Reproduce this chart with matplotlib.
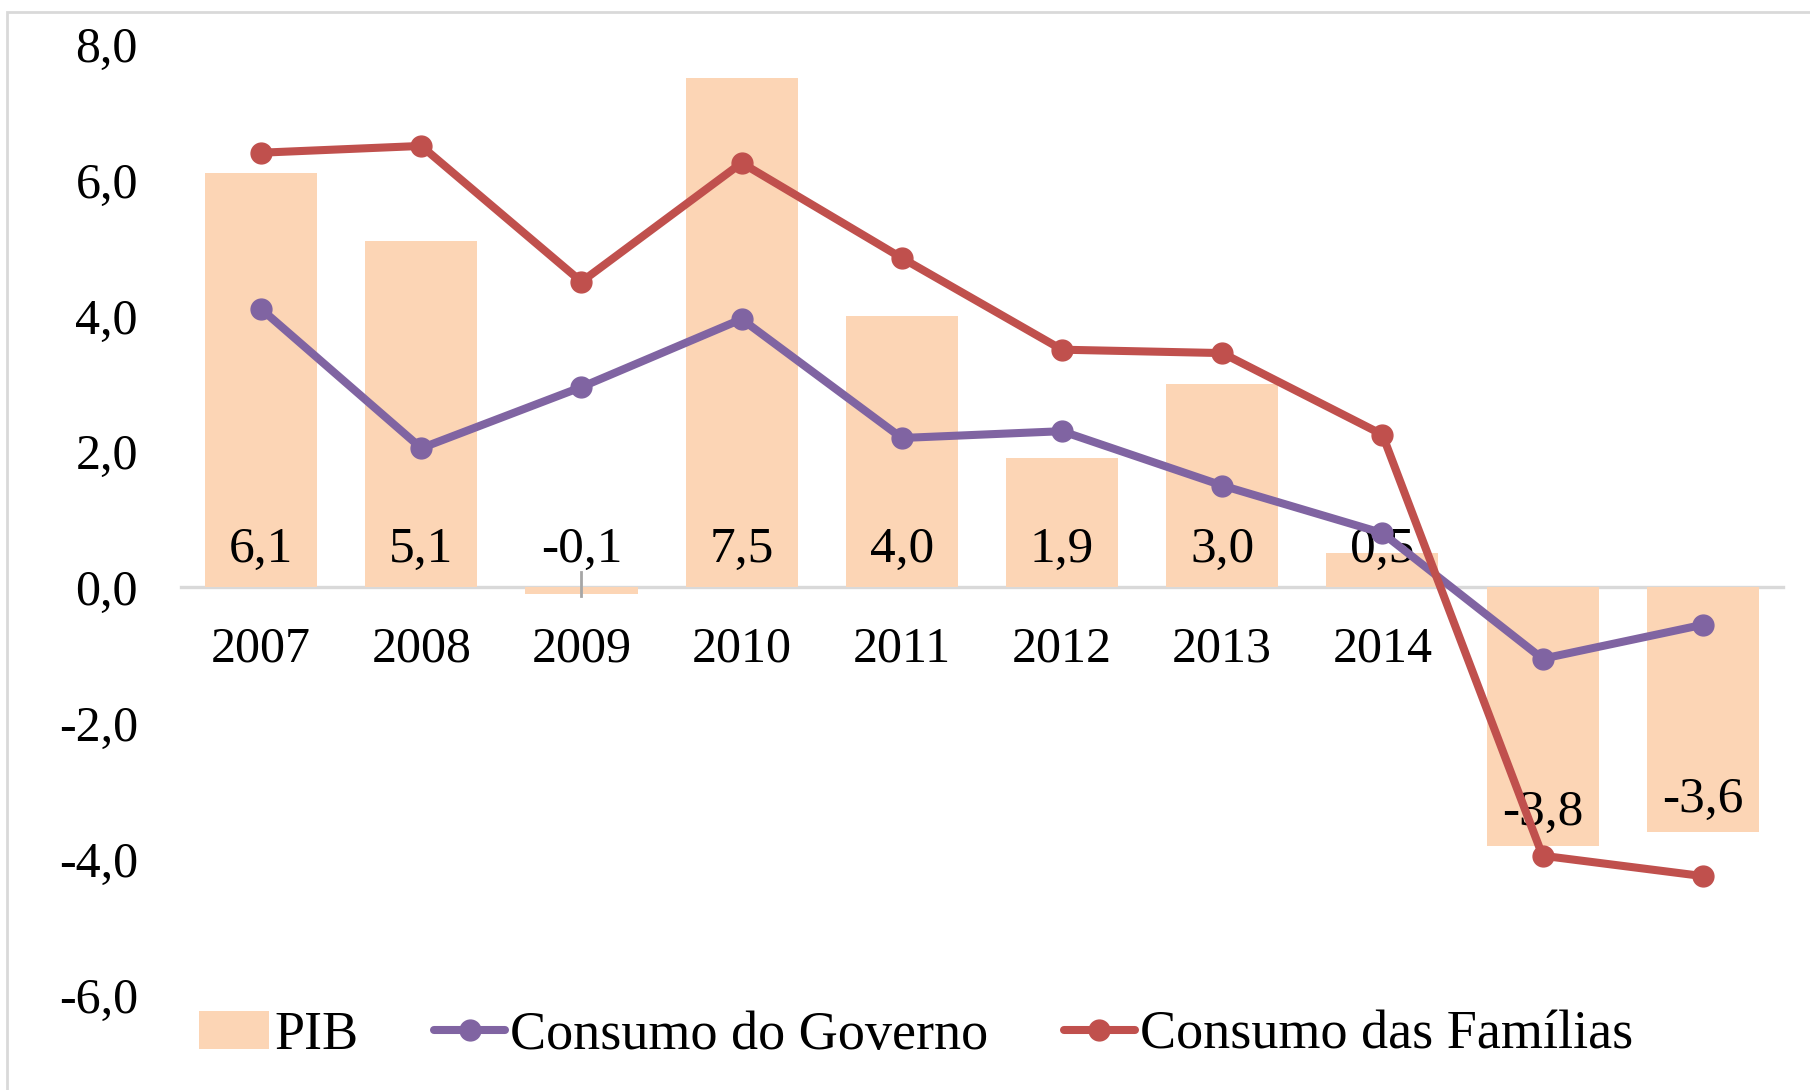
import matplotlib
matplotlib.use("Agg")
import matplotlib.pyplot as plt
from matplotlib.patches import Rectangle
import numpy as np

plt.rcParams['font.family'] = ['Liberation Serif', 'DejaVu Serif']

anos = ['2007', '2008', '2009', '2010', '2011', '2012', '2013', '2014', '2015', '2016']
pib = [6.1, 5.1, -0.1, 7.5, 4.0, 1.9, 3.0, 0.5, -3.8, -3.6]
governo = [4.1, 2.05, 2.95, 3.95, 2.2, 2.3, 1.5, 0.8, -1.05, -0.55]
familias = [6.4, 6.5, 4.5, 6.25, 4.85, 3.5, 3.45, 2.25, -3.95, -4.25]

cor_pib = '#FCD5B5'
cor_gov = '#8064A2'
cor_fam = '#C0504D'

fig = plt.figure(figsize=(18.1, 10.9), dpi=100)
ax = fig.add_axes([0.1, 0.0872, 0.885, 0.8724])

x = np.arange(len(anos))
barras = ax.bar(x, pib, width=0.7, color=cor_pib, label='PIB', zorder=2)
l_gov, = ax.plot(x, governo, color=cor_gov, lw=5.8, marker='o', ms=15,
                 solid_capstyle='round', label='Consumo do Governo', zorder=5)
l_fam, = ax.plot(x, familias, color=cor_fam, lw=5.8, marker='o', ms=15,
                 solid_capstyle='round', label='Consumo das Famílias', zorder=5)

# rótulos dos valores do PIB
for xi, v in zip(x, pib):
    yb = 0.37 if v > -1 else v + 0.3
    ax.text(xi, yb, f'{v:.1f}'.replace('.', ','), ha='center', va='baseline',
            fontsize=37, zorder=4)
# linha de chamada do rótulo de 2009
ax.plot([2, 2], [-0.13, 0.22], color='#A6A6A6', lw=2, zorder=3)

ax.set_xlim(-0.5, len(anos) - 0.5)
ax.set_ylim(-6, 8)
ax.set_yticks(np.arange(-6, 9, 2))
ax.set_yticklabels([f'{t:.1f}'.replace('.', ',') for t in np.arange(-6, 9, 2)])
ax.set_xticks(x)
ax.set_xticklabels(anos)
ax.tick_params(axis='y', length=0, pad=31, labelsize=36)
ax.tick_params(axis='x', length=0, pad=28, labelsize=36)

for s in ['left', 'right', 'top']:
    ax.spines[s].set_visible(False)
ax.spines['bottom'].set_position(('data', 0))
ax.spines['bottom'].set_color('#D9D9D9')
ax.spines['bottom'].set_linewidth(2.4)
ax.spines['bottom'].set_zorder(1)

ax.legend([barras, l_gov, l_fam], ['PIB', 'Consumo do Governo', 'Consumo das Famílias'],
          loc='center', bbox_to_anchor=(0.506, 0.05),
          bbox_transform=fig.transFigure, ncol=3, frameon=False,
          fontsize=39, handlelength=1.3, handletextpad=0.1,
          columnspacing=1.4, borderaxespad=0)

# moldura do gráfico
fig.patches.append(Rectangle((7 / 1810, -0.1), 1.2, 1 - 12 / 1090 + 0.1,
                             transform=fig.transFigure, fill=False,
                             edgecolor='#D9D9D9', lw=2))

fig.savefig('out.png', dpi=100)
